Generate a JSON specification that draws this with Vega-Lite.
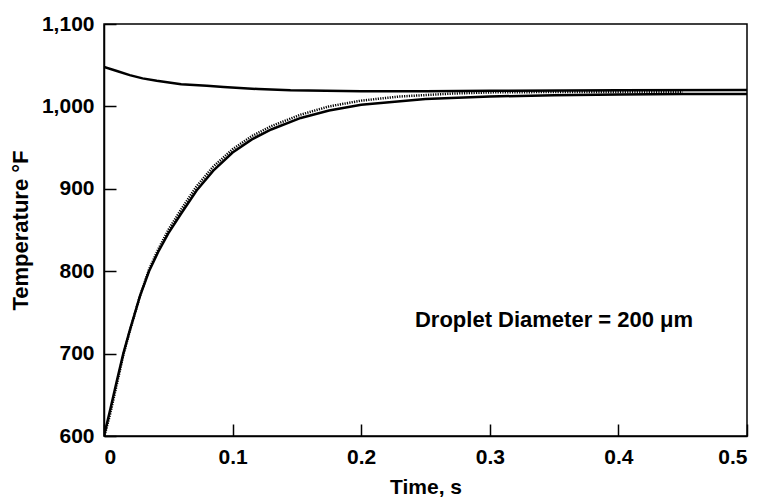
{
  "$schema": "https://vega.github.io/schema/vega-lite/v6.json",
  "autosize": "none",
  "width": 643,
  "height": 412,
  "padding": {"left": 104, "top": 24, "right": 16, "bottom": 64},
  "background": "white",
  "config": {
    "view": {"stroke": "black", "strokeWidth": 1.5},
    "font": "Liberation Sans",
    "axis": {
      "domainColor": "black", "domainWidth": 1.5,
      "tickColor": "black", "tickWidth": 1.5, "tickSize": -12,
      "grid": false,
      "labelFont": "Liberation Sans", "labelFontWeight": "bold", "labelFontSize": 21, "labelColor": "black",
      "titleFont": "Liberation Sans", "titleFontWeight": "bold", "titleFontSize": 21, "titleColor": "black"
    }
  },
  "datasets": {
    "curves": [
      {"t": 0, "T": 1048, "s": "top"},
      {"t": 0.01, "T": 1043, "s": "top"},
      {"t": 0.02, "T": 1038, "s": "top"},
      {"t": 0.03, "T": 1034, "s": "top"},
      {"t": 0.041, "T": 1031, "s": "top"},
      {"t": 0.06, "T": 1027, "s": "top"},
      {"t": 0.08, "T": 1025, "s": "top"},
      {"t": 0.093, "T": 1023.5, "s": "top"},
      {"t": 0.12, "T": 1021, "s": "top"},
      {"t": 0.145, "T": 1019.5, "s": "top"},
      {"t": 0.2, "T": 1018.5, "s": "top"},
      {"t": 0.25, "T": 1018.5, "s": "top"},
      {"t": 0.3, "T": 1019, "s": "top"},
      {"t": 0.4, "T": 1019.5, "s": "top"},
      {"t": 0.5, "T": 1020, "s": "top"},
      {"t": 0, "T": 600, "s": "bottom"},
      {"t": 0.005, "T": 633, "s": "bottom"},
      {"t": 0.01, "T": 667, "s": "bottom"},
      {"t": 0.015, "T": 700, "s": "bottom"},
      {"t": 0.02, "T": 728, "s": "bottom"},
      {"t": 0.028, "T": 770, "s": "bottom"},
      {"t": 0.035, "T": 800, "s": "bottom"},
      {"t": 0.042, "T": 823, "s": "bottom"},
      {"t": 0.05, "T": 846, "s": "bottom"},
      {"t": 0.06, "T": 870, "s": "bottom"},
      {"t": 0.072, "T": 898, "s": "bottom"},
      {"t": 0.085, "T": 922, "s": "bottom"},
      {"t": 0.1, "T": 944, "s": "bottom"},
      {"t": 0.115, "T": 960, "s": "bottom"},
      {"t": 0.13, "T": 972, "s": "bottom"},
      {"t": 0.153, "T": 986, "s": "bottom"},
      {"t": 0.175, "T": 995, "s": "bottom"},
      {"t": 0.2, "T": 1002, "s": "bottom"},
      {"t": 0.25, "T": 1009, "s": "bottom"},
      {"t": 0.3, "T": 1012, "s": "bottom"},
      {"t": 0.35, "T": 1013.5, "s": "bottom"},
      {"t": 0.4, "T": 1014.5, "s": "bottom"},
      {"t": 0.45, "T": 1015, "s": "bottom"},
      {"t": 0.5, "T": 1015, "s": "bottom"},
      {"t": 0, "T": 598, "s": "dotted"},
      {"t": 0.005, "T": 628, "s": "dotted"},
      {"t": 0.01, "T": 663, "s": "dotted"},
      {"t": 0.015, "T": 698, "s": "dotted"},
      {"t": 0.02, "T": 727, "s": "dotted"},
      {"t": 0.028, "T": 770, "s": "dotted"},
      {"t": 0.035, "T": 802, "s": "dotted"},
      {"t": 0.042, "T": 826, "s": "dotted"},
      {"t": 0.05, "T": 850, "s": "dotted"},
      {"t": 0.06, "T": 875, "s": "dotted"},
      {"t": 0.072, "T": 903, "s": "dotted"},
      {"t": 0.085, "T": 927, "s": "dotted"},
      {"t": 0.1, "T": 948, "s": "dotted"},
      {"t": 0.115, "T": 964, "s": "dotted"},
      {"t": 0.13, "T": 976, "s": "dotted"},
      {"t": 0.153, "T": 990, "s": "dotted"},
      {"t": 0.175, "T": 1000, "s": "dotted"},
      {"t": 0.2, "T": 1007, "s": "dotted"},
      {"t": 0.23, "T": 1012, "s": "dotted"},
      {"t": 0.27, "T": 1015.5, "s": "dotted"},
      {"t": 0.3, "T": 1017, "s": "dotted"},
      {"t": 0.35, "T": 1017.5, "s": "dotted"},
      {"t": 0.4, "T": 1017.5, "s": "dotted"},
      {"t": 0.45, "T": 1017.5, "s": "dotted"}
    ],
    "note": [
      {"t": 0.2418, "T": 732, "label": "Droplet Diameter = 200 μm"}
    ]
  },
  "layer": [
    {
      "data": {"name": "curves"},
      "transform": [{"filter": "datum.s !== 'dotted'"}],
      "mark": {"type": "line", "color": "black", "strokeWidth": 2.5, "clip": true},
      "encoding": {
        "x": {"field": "t", "type": "quantitative", "scale": {"domain": [0, 0.5], "nice": false},
          "axis": {"title": "Time, s", "values": [0, 0.1, 0.2, 0.3, 0.4, 0.5], "format": ".1~f", "labelPadding": 22, "titlePadding": 9}},
        "y": {"field": "T", "type": "quantitative", "scale": {"domain": [600, 1100], "nice": false, "zero": false},
          "axis": {"title": "Temperature °F", "titleFontSize": 22, "values": [600, 700, 800, 900, 1000, 1100], "format": ",d", "labelPadding": 22, "titlePadding": 9}},
        "detail": {"field": "s"}
      }
    },
    {
      "data": {"name": "curves"},
      "transform": [{"filter": "datum.s === 'dotted'"}],
      "mark": {"type": "line", "color": "black", "strokeWidth": 2.5, "strokeDash": [1.2, 1.2], "clip": true},
      "encoding": {
        "x": {"field": "t", "type": "quantitative"},
        "y": {"field": "T", "type": "quantitative"}
      }
    },
    {
      "data": {"name": "note"},
      "mark": {"type": "text", "align": "left", "baseline": "alphabetic", "fontSize": 22, "fontWeight": "bold", "font": "Liberation Sans", "color": "black"},
      "encoding": {
        "x": {"field": "t", "type": "quantitative"},
        "y": {"field": "T", "type": "quantitative"},
        "text": {"field": "label"}
      }
    }
  ]
}
